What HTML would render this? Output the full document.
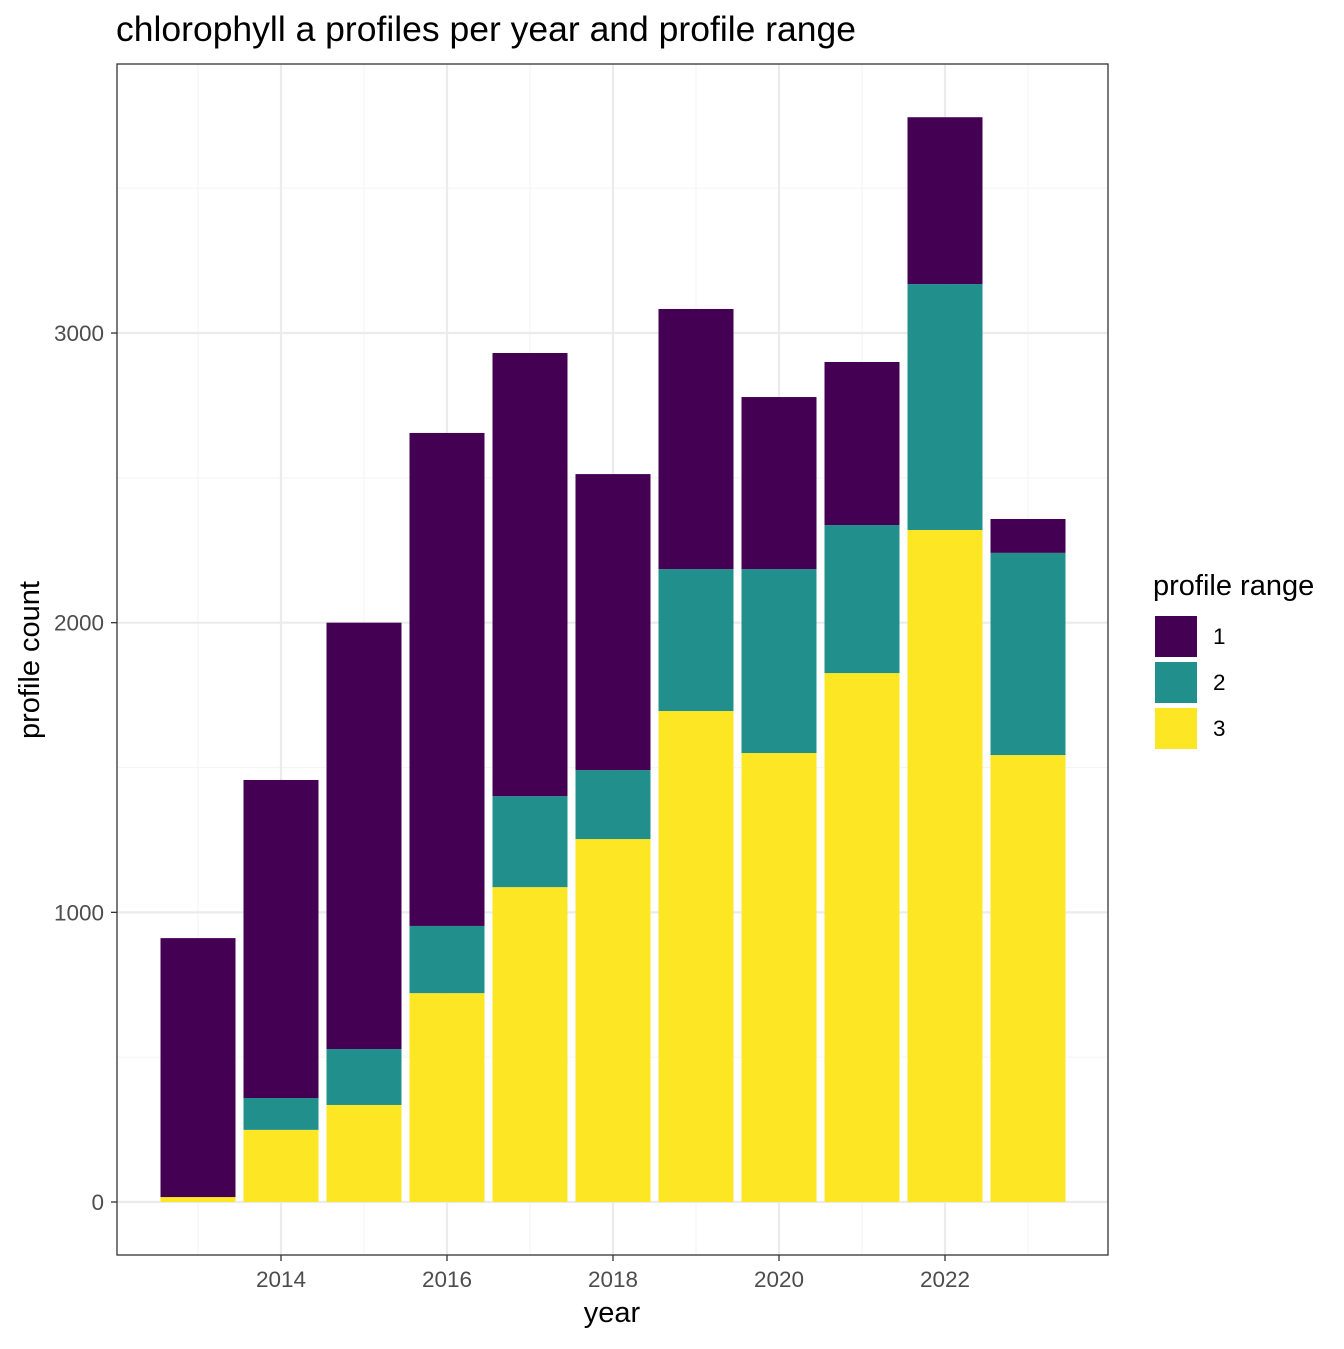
<!DOCTYPE html>
<html><head><meta charset="utf-8"><style>
body{margin:0;background:#fff;}
svg text{font-family:"Liberation Sans",Arial,sans-serif;}
</style></head><body>
<svg id="chart" width="1344" height="1344" xmlns="http://www.w3.org/2000/svg">
<text x="116" y="41" font-size="35.5" fill="#000">chlorophyll a profiles per year and profile range</text>
<g id="grid"></g>
<g id="bars"></g>
<rect x="117" y="64" width="991" height="1191" fill="none" stroke="#333" stroke-width="1.3"/>
<g id="axes"></g>
<text x="612" y="1322" font-size="29" text-anchor="middle">year</text>
<text transform="translate(39,660) rotate(-90)" font-size="29" text-anchor="middle">profile count</text>
<g id="legend">
<text x="1153" y="595" font-size="29">profile range</text>
</g>
</svg>
<script>
const years=[2013,2014,2015,2016,2017,2018,2019,2020,2021,2022,2023];
const range3=[17,249,335,721,1087,1253,1695,1550,1826,2320,1543];
const range2=[0,110,193,232,314,238,490,635,511,849,698];
const range1=[894,1098,1472,1702,1530,1022,898,594,563,576,117];
const yTicks=[0,1000,2000,3000];
const xTicks=[2014,2016,2018,2020,2022];
const colors={"1":"#440154","2":"#21908C","3":"#FDE725"};
const NS="http://www.w3.org/2000/svg";
function X(yr){return 281+(yr-2014)*83;}
function Y(v){return 1202-v*0.28966;}
function mk(tag,attrs,parent){const e=document.createElementNS(NS,tag);for(const k in attrs)e.setAttribute(k,attrs[k]);parent.appendChild(e);return e;}
const grid=document.getElementById('grid'),bars=document.getElementById('bars'),axes=document.getElementById('axes'),legend=document.getElementById('legend');
for(let v=500;v<=3500;v+=1000){const l=mk('line',{x1:117,x2:1108,y1:Y(v),y2:Y(v),stroke:'#F5F5F5','stroke-width':1.2},grid);

}
for(let yr=2013;yr<=2023;yr+=2){const l=mk('line',{x1:X(yr),x2:X(yr),y1:64,y2:1255,stroke:'#F5F5F5','stroke-width':1.2},grid);

}
yTicks.forEach(v=>{const l=mk('line',{x1:117,x2:1108,y1:Y(v),y2:Y(v),stroke:'#EBEBEB','stroke-width':2.2},grid);


const t=mk('line',{x1:111,x2:117,y1:Y(v),y2:Y(v),stroke:'#333','stroke-width':1.3},axes);


const tx=mk('text',{x:104,y:Y(v)+8,'font-size':22.5,fill:'#4D4D4D','text-anchor':'end'},axes);tx.textContent=v;

});
xTicks.forEach(v=>{const l=mk('line',{x1:X(v),x2:X(v),y1:64,y2:1255,stroke:'#EBEBEB','stroke-width':2.2},grid);


const t=mk('line',{x1:X(v),x2:X(v),y1:1255,y2:1261,stroke:'#333','stroke-width':1.3},axes);


const tx=mk('text',{x:X(v),y:1287,'font-size':22.5,fill:'#4D4D4D','text-anchor':'middle'},axes);tx.textContent=v;

});
years.forEach((yr,i)=>{let base=0;
[['3',range3[i]],['2',range2[i]],['1',range1[i]]].forEach(([k,v])=>{
if(v<=0)return;
const r=mk('rect',{x:X(yr)-37.5,width:75,y:Y(base+v),height:Y(base)-Y(base+v),fill:colors[k]},bars);


base+=v;});});
['1','2','3'].forEach((k,i)=>{const y=616+i*46;
const r=mk('rect',{x:1155,y:y,width:42,height:41,fill:colors[k]},legend);


const t=mk('text',{x:1213,y:y+28,'font-size':22.5},legend);t.textContent=k;

});
</script>
</body></html>
